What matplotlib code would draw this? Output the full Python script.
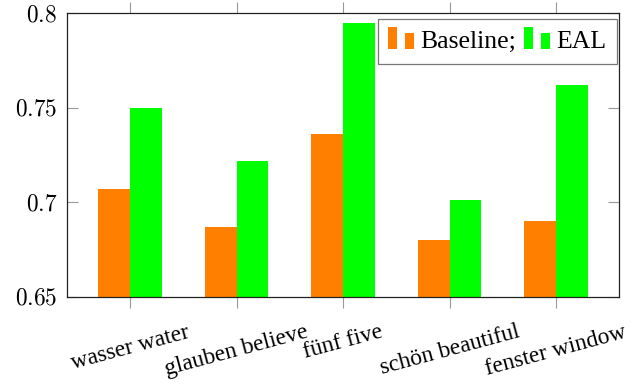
import numpy as np
import matplotlib.pyplot as plt
from matplotlib.patches import Rectangle

#datos
palabras=['wasser water','glauben believe','fünf five','schön beautiful','fenster window']
baseline=[0.707,0.687,0.736,0.680,0.690]
eal=[0.750,0.722,0.795,0.701,0.762]
yticks=[0.65,0.7,0.75,0.8]
ytick_labels=['0.65','0.7','0.75','0.8']

naranja='#FF8000'
verde='#00FF00'

plt.rcParams['font.family']=['Liberation Serif','DejaVu Serif']
plt.rcParams['mathtext.fontset']='cm'

#icono de la leyenda: dos barritas como en pgfplots
class DosBarras:
    def __init__(self,color):
        self.color=color

class ManejadorDosBarras:
    def legend_artist(self,legend,orig_handle,fontsize,handlebox):
        w=handlebox.width
        b1=Rectangle((0,-0.05*fontsize),0.33*w,0.85*fontsize,facecolor=orig_handle.color,edgecolor='none',transform=handlebox.get_transform())
        b2=Rectangle((0.64*w,-0.05*fontsize),0.36*w,0.65*fontsize,facecolor=orig_handle.color,edgecolor='none',transform=handlebox.get_transform())
        handlebox.add_artist(b1)
        handlebox.add_artist(b2)
        return b1

#crear el grafico
fig=plt.figure(figsize=(6.41,3.86),dpi=100)
ax=fig.add_axes([0.1041,0.2313,0.8621,0.7342])

x=np.arange(len(palabras))
ancho=0.3
ax.bar(x-ancho/2,baseline,ancho,color=naranja,edgecolor='none')
ax.bar(x+ancho/2,eal,ancho,color=verde,edgecolor='none')

ax.set_xlim(-0.595,len(palabras)-1+0.595)
ax.set_ylim(0.65,0.8)

#ticks
ax.set_yticks(yticks)
ax.set_yticklabels(['$'+t+'$' for t in ytick_labels],fontsize=16.8)
ax.set_xticks(x)
ax.set_xticklabels(palabras,rotation=15,ha='center',fontsize=16.8)
ax.tick_params(axis='y',direction='in',length=7.9,width=0.8,color='#999999',left=True,right=True,pad=7)
ax.tick_params(axis='x',direction='out',length=7.9,width=0.8,color='#999999',bottom=True,top=True,pad=10)

for s in ax.spines.values():
    s.set_linewidth(0.9)
    s.set_color('#222222')

#leyenda
leg=ax.legend([DosBarras(naranja),DosBarras(verde)],['Baseline;','EAL'],
              handler_map={DosBarras:ManejadorDosBarras()},
              ncol=2,loc='upper right',bbox_to_anchor=(0.996,0.979),
              fontsize=18.5,frameon=True,fancybox=False,
              handlelength=1.0,handletextpad=0.25,columnspacing=0.3,
              borderpad=0.42,borderaxespad=0.0)
leg.get_frame().set_edgecolor('#555555')
leg.get_frame().set_linewidth(0.9)

plt.savefig('out.png',dpi=100)
